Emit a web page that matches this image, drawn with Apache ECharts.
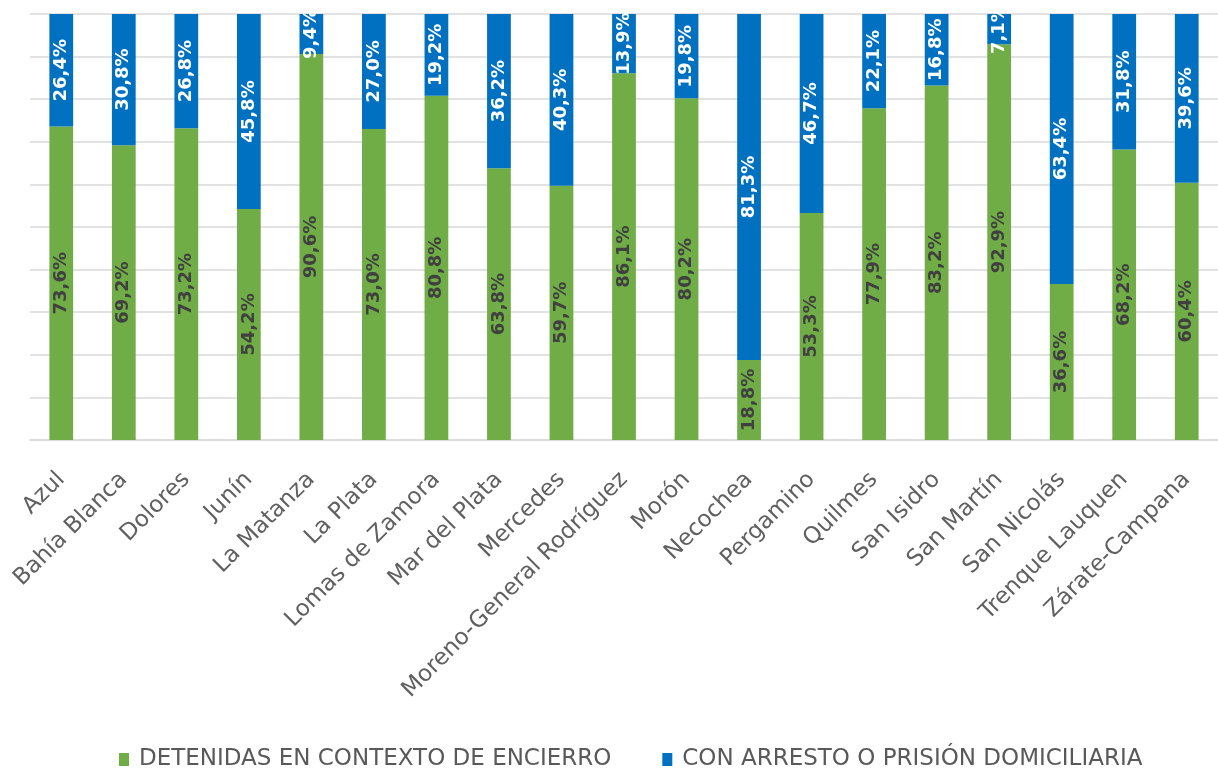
<!DOCTYPE html>
<html><head><meta charset="utf-8">
<script src="https://cdn.jsdelivr.net/npm/echarts@6/dist/echarts.min.js"></script>
<style>html,body{margin:0;padding:0;background:#fff}#c{width:1218px;height:771px}</style>
</head><body><div id="c"></div>
<script>
const categories = ["Azul","Bahía Blanca","Dolores","Junín","La Matanza","La Plata","Lomas de Zamora","Mar del Plata","Mercedes","Moreno-General Rodríguez","Morón","Necochea","Pergamino","Quilmes","San Isidro","San Martín","San Nicolás","Trenque Lauquen","Zárate-Campana"];
const detenidas = [73.6,69.2,73.2,54.2,90.6,73.0,80.8,63.8,59.7,86.1,80.2,18.8,53.3,77.9,83.2,92.9,36.6,68.2,60.4];
const domiciliaria = [26.4,30.8,26.8,45.8,9.4,27.0,19.2,36.2,40.3,13.9,19.8,81.3,46.7,22.1,16.8,7.1,63.4,31.8,39.6];
const seriesNames = ["DETENIDAS EN CONTEXTO DE ENCIERRO","CON ARRESTO O PRISIÓN DOMICILIARIA"];

const fmt = p => p.value.toFixed(1).replace('.', ',') + '%';
const chart = echarts.init(document.getElementById('c'));
chart.setOption({
  animation: false,
  grid: {left: 30, right: -3, top: 14, bottom: 331, containLabel: false},
  legend: {
    bottom: -5, left: 114, icon: 'rect', itemWidth: 10, itemHeight: 13, itemGap: 51,
    textStyle: {fontFamily: 'DejaVu Sans, sans-serif', fontSize: 23, color: '#595959', padding: [0, 0, 0, 5]}
  },
  xAxis: {
    type: 'category', data: categories,
    axisLine: {lineStyle: {color: '#d9d9d9', width: 1.5}},
    axisTick: {show: false},
    axisLabel: {rotate: 45, interval: 0, margin: 36, color: '#606060', fontSize: 23, fontFamily: 'DejaVu Sans, sans-serif'}
  },
  yAxis: {
    type: 'value', min: 0, max: 100, interval: 10,
    axisLabel: {show: false}, axisLine: {show: false}, axisTick: {show: false},
    splitLine: {lineStyle: {color: '#d9d9d9', width: 1.5}}
  },
  series: [
    {name: seriesNames[0], type: 'bar', stack: 's', data: detenidas, barWidth: '38%',
     itemStyle: {color: '#70ad47'},
     label: {show: true, position: 'inside', rotate: 90, formatter: fmt, color: '#404040', fontSize: 18, fontWeight: 'bold', fontFamily: 'DejaVu Sans, sans-serif'}},
    {name: seriesNames[1], type: 'bar', stack: 's', data: domiciliaria, barWidth: '38%',
     itemStyle: {color: '#0070c0'},
     label: {show: true, position: 'inside', rotate: 90, formatter: fmt, color: '#ffffff', fontSize: 18, fontWeight: 'bold', fontFamily: 'DejaVu Sans, sans-serif'}}
  ]
});
</script></body></html>
